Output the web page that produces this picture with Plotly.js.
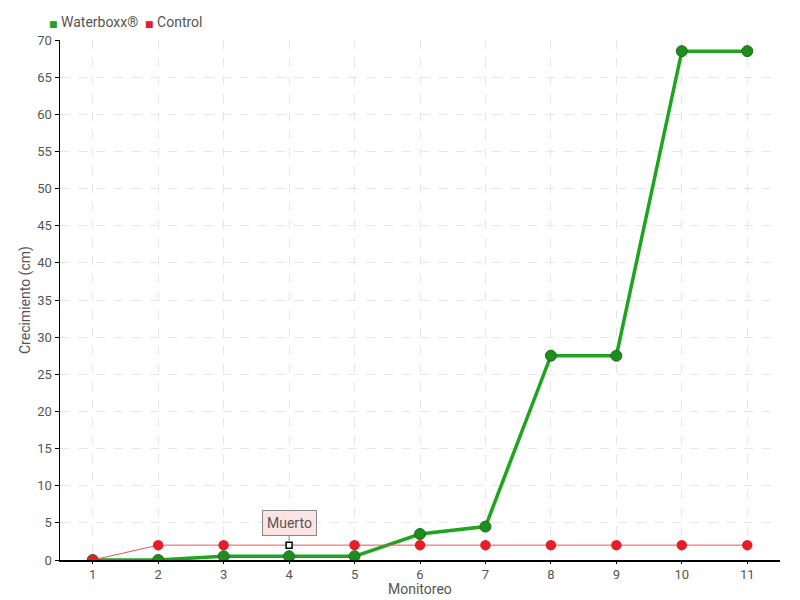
<!DOCTYPE html>
<html>
<head>
<meta charset="utf-8">
<script src="https://cdn.plot.ly/plotly-3.0.1.min.js"></script>
<style>
  html, body { margin: 0; padding: 0; background: #fff; }
  #chart { width: 800px; height: 600px; }
</style>
</head>
<body>
<div id="chart"></div>
<script>
// Monitoring rounds
const monitoreo = [1, 2, 3, 4, 5, 6, 7, 8, 9, 10, 11];
// Growth (cm) per round
const waterboxx = [0, 0, 0.5, 0.5, 0.5, 3.5, 4.5, 27.5, 27.5, 68.5, 68.5];
const control = [0, 2, 2, 2, 2, 2, 2, 2, 2, 2, 2];
// Round at which the control plant was recorded dead
const deadIndex = 3;
const deadLabel = 'Muerto';
const seriesNames = ['Waterboxx®', 'Control'];

const font = 'Roboto, DejaVu Sans, sans-serif';
const textColor = '#555555';
const green = '#1ea51e';
const red = '#e61e28';

const controlColors = control.map((_, i) => i === deadIndex ? '#ffffff' : red);
const controlLines = control.map((_, i) => i === deadIndex ? '#000000' : red);
const controlSizes = control.map((_, i) => i === deadIndex ? 6 : 9);
const controlSymbols = control.map((_, i) => i === deadIndex ? 'square' : 'circle');

const traces = [
  {
    x: monitoreo, y: waterboxx, name: seriesNames[0],
    mode: 'lines+markers', type: 'scatter',
    line: { color: green, width: 3.5 },
    marker: { color: '#1e8c1e', size: 11, line: { color: '#177017', width: 1 } }
  },
  {
    x: monitoreo, y: control, name: seriesNames[1],
    mode: 'lines+markers', type: 'scatter',
    line: { color: '#f25058', width: 1 },
    marker: { color: controlColors, size: controlSizes, symbol: controlSymbols,
              opacity: 1, line: { color: controlLines, width: 1.5 } }
  }
];

// Legend drawn as a compact row of coloured squares and names
const legendText =
  `<span style="color:${green};font-size:9px">■</span> ${seriesNames[0]}  ` +
  `<span style="color:${red};font-size:9px">■</span> ${seriesNames[1]}`;

const layout = {
  width: 800, height: 600,
  margin: { l: 60, r: 20, t: 40, b: 40 },
  paper_bgcolor: '#ffffff', plot_bgcolor: '#ffffff',
  font: { family: font, size: 14, color: textColor },
  showlegend: false,
  xaxis: {
    range: [0.5, 11.5], tickmode: 'array', tickvals: monitoreo,
    showgrid: true, gridcolor: '#e6e6e6', griddash: 'dash', gridwidth: 1,
    showline: true, linecolor: '#000000', linewidth: 1.5,
    ticks: 'outside', ticklen: 2, tickcolor: '#000000',
    tickfont: { family: font, size: 13, color: textColor },
    zeroline: false, fixedrange: true
  },
  yaxis: {
    range: [0, 70], dtick: 5,
    showgrid: true, gridcolor: '#e6e6e6', griddash: 'dash', gridwidth: 1,
    showline: true, linecolor: '#000000', linewidth: 1.5,
    ticks: 'outside', ticklen: 4, tickcolor: '#000000',
    tickfont: { family: font, size: 13, color: textColor },
    zeroline: false, fixedrange: true
  },
  annotations: [
    {
      x: monitoreo[deadIndex], y: control[deadIndex], xref: 'x', yref: 'y',
      text: deadLabel, showarrow: true, arrowhead: 0, arrowwidth: 1,
      arrowcolor: '#888888', ax: 0, ay: -22, standoff: 4,
      bgcolor: '#fde4e4', bordercolor: '#888888', borderwidth: 1, borderpad: 4,
      font: { family: font, size: 14, color: textColor }
    },
    {
      text: 'Monitoreo', xref: 'paper', yref: 'paper', x: 0.5, y: -0.056,
      xanchor: 'center', yanchor: 'middle', showarrow: false,
      font: { family: font, size: 14, color: textColor }
    },
    {
      text: 'Crecimiento (cm)', xref: 'paper', yref: 'paper', x: -0.034, y: 0.5,
      xanchor: 'right', yanchor: 'middle', textangle: -90, showarrow: false,
      font: { family: font, size: 14, color: textColor }
    },
    {
      text: legendText, xref: 'paper', yref: 'paper', x: -0.018, y: 1.035,
      xanchor: 'left', yanchor: 'middle', showarrow: false,
      font: { family: font, size: 14, color: textColor }
    }
  ]
};

Plotly.newPlot('chart', traces, layout, { displayModeBar: false, staticPlot: true });
</script>
</body>
</html>
